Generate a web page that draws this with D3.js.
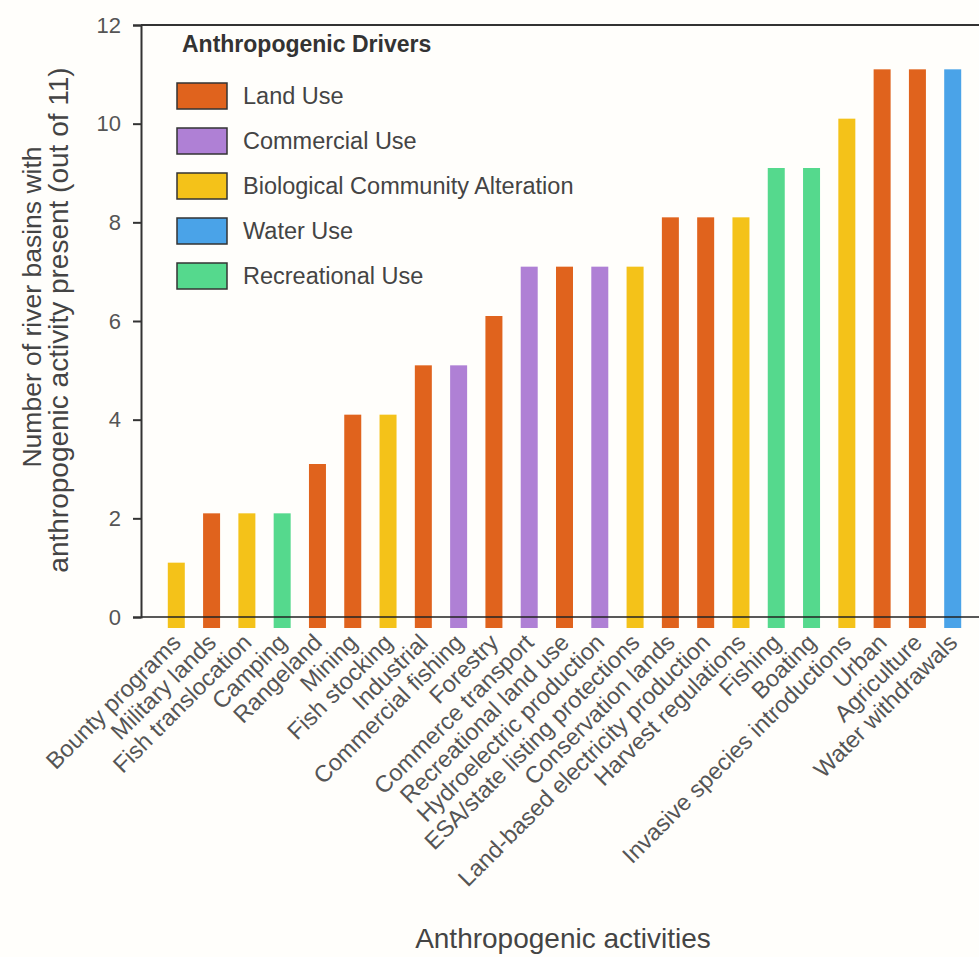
<!DOCTYPE html>
<html>
<head>
<meta charset="utf-8">
<script src="https://cdn.jsdelivr.net/npm/d3@7"></script>
<style>
  html, body { margin: 0; padding: 0; background: #fffefb; }
  svg { display: block; }
  text { font-family: "Liberation Sans", Arial, sans-serif; }
</style>
</head>
<body>
<svg id="chart" width="979" height="957"></svg>
<script>
const categories = [
  "Bounty programs", "Military lands", "Fish translocation", "Camping", "Rangeland",
  "Mining", "Fish stocking", "Industrial", "Commercial fishing", "Forestry",
  "Commerce transport", "Recreational land use", "Hydroelectric production",
  "ESA/state listing protections", "Conservation lands", "Land-based electricity production",
  "Harvest regulations", "Fishing", "Boating", "Invasive species introductions",
  "Urban", "Agriculture", "Water withdrawals"
];
const values = [1, 2, 2, 2, 3, 4, 4, 5, 5, 6, 7, 7, 7, 7, 8, 8, 8, 9, 9, 10, 11, 11, 11];
const drivers = [
  "Biological Community Alteration", "Land Use", "Biological Community Alteration", "Recreational Use", "Land Use",
  "Land Use", "Biological Community Alteration", "Land Use", "Commercial Use", "Land Use",
  "Commercial Use", "Land Use", "Commercial Use",
  "Biological Community Alteration", "Land Use", "Land Use",
  "Biological Community Alteration", "Recreational Use", "Recreational Use", "Biological Community Alteration",
  "Land Use", "Land Use", "Water Use"
];
const driverNames = ["Land Use", "Commercial Use", "Biological Community Alteration", "Water Use", "Recreational Use"];
const driverColors = ["#E0631D", "#AF80D5", "#F4C219", "#4AA3E8", "#55D98D"];
const yTicks = [0, 2, 4, 6, 8, 10, 12];

(function () {
const svg = d3.select("#chart");
const mLeft = 141, mTop = 25, mBottom = 617, mRight = 988;

const x = d3.scalePoint().domain(categories).range([mLeft, mRight]).padding(1);
const y = d3.scaleLinear().domain([0, 12]).range([mBottom, mTop]);
const color = d3.scaleOrdinal().domain(driverNames).range(driverColors);

const barW = 17, topPad = 5, overhang = 11;

// bars
svg.append("g").selectAll("rect").data(categories).join("rect")
  .attr("x", d => x(d) - barW / 2)
  .attr("width", barW)
  .attr("y", (d, i) => y(values[i]) - topPad)
  .attr("height", (d, i) => y(0) - y(values[i]) + topPad + overhang)
  .attr("fill", (d, i) => color(drivers[i]));

// top frame line
svg.append("line")
  .attr("x1", mLeft).attr("x2", 979).attr("y1", mTop).attr("y2", mTop)
  .attr("stroke", "#333").attr("stroke-width", 2);

// x axis line
svg.append("line")
  .attr("x1", mLeft).attr("x2", 979).attr("y1", y(0)).attr("y2", y(0))
  .attr("stroke", "#222").attr("stroke-opacity", 0.75).attr("stroke-width", 2);

// y axis
const yAxis = svg.append("g")
  .attr("transform", `translate(${mLeft},0)`)
  .call(d3.axisLeft(y).tickValues(yTicks).tickSize(8).tickPadding(12).tickFormat(d3.format("d")));
yAxis.select(".domain").attr("stroke", "#333").attr("stroke-width", 2);
yAxis.selectAll(".tick line").attr("stroke", "#333").attr("stroke-width", 2);
yAxis.selectAll(".tick text").attr("font-size", 22).attr("fill", "#555")
  .attr("font-family", "Liberation Sans, Arial, sans-serif");

// x tick labels
svg.append("g").selectAll("text").data(categories).join("text")
  .attr("transform", d => `translate(${x(d) + 6},${mBottom + 27}) rotate(-45)`)
  .attr("text-anchor", "end")
  .attr("font-size", 23.5)
  .attr("fill", "#555")
  .text(d => d);

// axis titles
svg.append("text")
  .attr("transform", `translate(41,307) rotate(-90)`)
  .attr("text-anchor", "middle")
  .attr("font-size", 26.5).attr("fill", "#444")
  .text("Number of river basins with");
svg.append("text")
  .attr("transform", `translate(68,320) rotate(-90)`)
  .attr("text-anchor", "middle")
  .attr("font-size", 28).attr("fill", "#444")
  .text("anthropogenic activity present (out of 11)");
svg.append("text")
  .attr("x", 563).attr("y", 948)
  .attr("text-anchor", "middle")
  .attr("font-size", 28).attr("fill", "#444")
  .text("Anthropogenic activities");

// legend
const lg = svg.append("g");
lg.append("text").attr("x", 182).attr("y", 52)
  .attr("font-size", 23).attr("font-weight", "bold").attr("fill", "#333")
  .text("Anthropogenic Drivers");
const rows = lg.selectAll("g.row").data(driverNames).join("g")
  .attr("class", "row")
  .attr("transform", (d, i) => `translate(177,${83 + i * 45})`);
rows.append("rect")
  .attr("width", 50).attr("height", 26)
  .attr("fill", d => color(d))
  .attr("stroke", "#333").attr("stroke-width", 1.5);
rows.append("text")
  .attr("x", 66).attr("y", 13).attr("dy", "0.36em")
  .attr("font-size", 23.5).attr("fill", "#444")
  .text(d => d);
})();
</script>
</body>
</html>
